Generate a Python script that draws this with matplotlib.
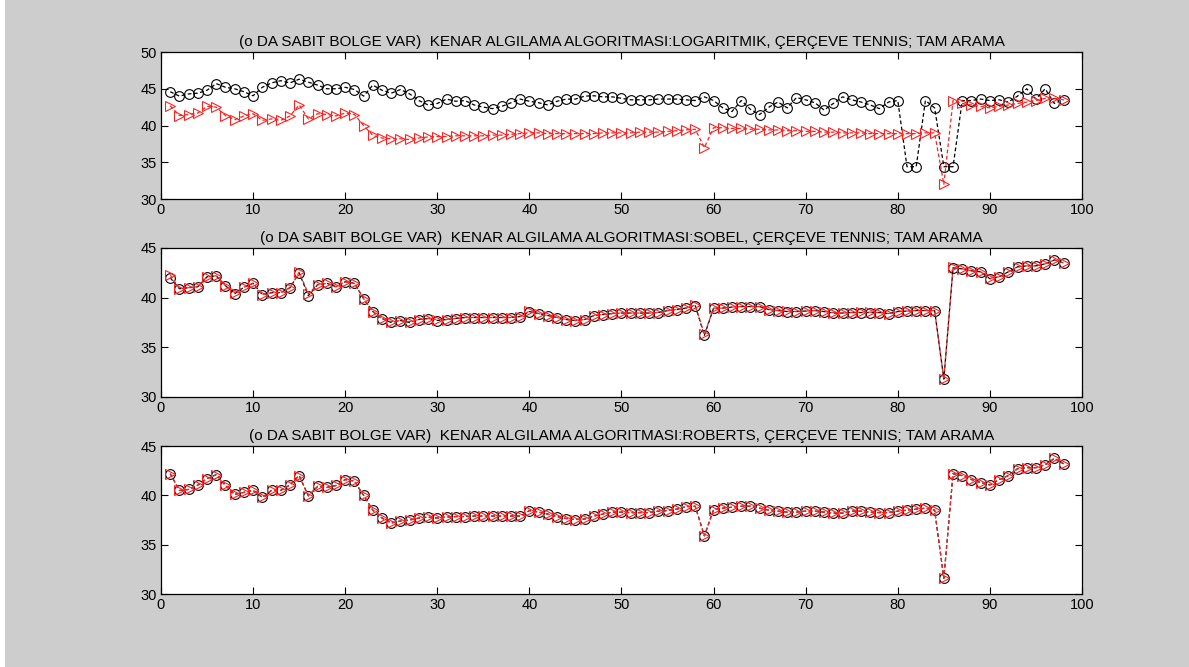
import numpy as np
import matplotlib
matplotlib.use('Agg')
import matplotlib.pyplot as plt
import matplotlib.patches as mpatches

plt.rcParams['font.family'] = ['Liberation Sans', 'DejaVu Sans']

x = np.arange(1, 99)

# LOGARITMIK
log_circ = [44.6, 44.0, 44.3, 44.4, 44.8, 45.7, 45.2, 45.0, 44.6, 44.05,
            45.2, 45.8, 46.1, 45.8, 46.3, 45.9, 45.5, 45.0, 45.0, 45.2,
            44.9, 44.0, 45.5, 44.8, 44.4, 44.9, 44.3, 43.4, 42.8, 43.0,
            43.6, 43.3, 43.4, 42.8, 42.5, 42.3, 42.6, 43.1, 43.6, 43.3,
            43.1, 42.8, 43.3, 43.6, 43.6, 44.0, 44.05, 43.9, 43.9, 43.7,
            43.5, 43.5, 43.5, 43.6, 43.6, 43.6, 43.5, 43.4, 43.9, 43.4,
            42.4, 41.9, 43.4, 42.2, 41.5, 42.5, 43.2, 42.4, 43.8, 43.5,
            43.1, 42.1, 43.0, 43.9, 43.5, 43.2, 42.8, 42.3, 43.2, 43.4,
            34.4, 34.4, 43.4, 42.4, 34.4, 34.4, 43.4, 43.4, 43.6, 43.4,
            43.5, 43.2, 44.0, 45.0, 43.6, 45.0, 43.0, 43.5]
log_tri = [42.7, 41.35, 41.5, 41.7, 42.6, 42.5, 41.35, 40.8, 41.3, 41.6,
           40.7, 40.9, 40.7, 41.3, 42.8, 40.9, 41.6, 41.5, 41.3, 41.7,
           41.5, 40.0, 38.65, 38.3, 38.2, 38.2, 38.1, 38.3, 38.45, 38.5,
           38.5, 38.6, 38.6, 38.6, 38.6, 38.7, 38.7, 38.8, 38.9, 39.0,
           39.0, 38.9, 38.9, 38.9, 38.9, 38.9, 38.9, 39.0, 39.0, 39.0,
           39.0, 39.1, 39.1, 39.1, 39.2, 39.3, 39.4, 39.5, 37.0, 39.7,
           39.7, 39.6, 39.6, 39.5, 39.5, 39.4, 39.4, 39.3, 39.3, 39.2,
           39.2, 39.1, 39.1, 39.0, 39.0, 39.0, 38.9, 38.9, 38.9, 38.9,
           38.9, 38.9, 39.0, 39.0, 32.0, 43.4, 43.0, 42.8, 42.6, 42.4,
           42.6, 42.8, 43.0, 43.2, 43.4, 43.7, 43.7, 43.5]

# SOBEL
sob_tri = [42.3, 40.9, 41.0, 41.1, 42.1, 42.2, 41.2, 40.5, 41.05, 41.45,
           40.3, 40.5, 40.5, 41.0, 42.55, 40.4, 41.3, 41.45, 41.1, 41.6,
           41.45, 39.9, 38.6, 37.9, 37.6, 37.7, 37.6, 37.8, 37.9, 37.8,
           37.8, 37.9, 38.0, 38.0, 38.0, 38.0, 38.0, 38.0, 38.1, 38.65,
           38.4, 38.2, 38.0, 37.8, 37.7, 37.8, 38.2, 38.3, 38.4, 38.45,
           38.45, 38.45, 38.45, 38.5, 38.7, 38.8, 38.95, 39.25, 36.3, 38.95,
           38.95, 39.05, 39.1, 39.1, 39.1, 38.8, 38.7, 38.65, 38.6, 38.65,
           38.7, 38.6, 38.5, 38.45, 38.5, 38.55, 38.55, 38.5, 38.4, 38.6,
           38.65, 38.7, 38.7, 38.7, 31.8, 43.05, 42.9, 42.7, 42.6, 41.95,
           42.1, 42.6, 43.1, 43.2, 43.2, 43.4, 43.8, 43.5]
sob_circ = [42.0, 40.9, 41.0, 41.1, 42.1, 42.2, 41.2, 40.4, 41.05, 41.45,
            40.3, 40.5, 40.5, 41.0, 42.5, 40.2, 41.3, 41.45, 41.1, 41.6,
            41.45, 39.9, 38.6, 37.9, 37.5, 37.7, 37.5, 37.8, 37.9, 37.7,
            37.8, 37.9, 38.0, 38.0, 38.0, 38.0, 38.0, 38.0, 38.1, 38.6,
            38.4, 38.2, 38.0, 37.8, 37.7, 37.8, 38.2, 38.3, 38.4, 38.45,
            38.45, 38.45, 38.45, 38.5, 38.7, 38.8, 38.95, 39.2, 36.2, 38.95,
            38.95, 39.05, 39.1, 39.1, 39.1, 38.8, 38.7, 38.6, 38.6, 38.65,
            38.7, 38.6, 38.45, 38.45, 38.5, 38.5, 38.5, 38.5, 38.4, 38.6,
            38.65, 38.7, 38.7, 38.7, 31.8, 43.0, 42.9, 42.7, 42.6, 41.9,
            42.1, 42.6, 43.1, 43.2, 43.2, 43.4, 43.8, 43.5]

# ROBERTS
rob_tri = [42.2, 40.5, 40.6, 41.05, 41.7, 42.1, 41.0, 40.1, 40.3, 40.5,
           39.8, 40.5, 40.5, 41.05, 42.0, 39.95, 40.9, 40.8, 41.0, 41.6,
           41.45, 40.0, 38.5, 37.7, 37.2, 37.4, 37.5, 37.7, 37.8, 37.7,
           37.8, 37.85, 37.85, 37.9, 37.9, 37.9, 37.9, 37.9, 37.9, 38.45,
           38.3, 38.1, 37.85, 37.65, 37.55, 37.6, 37.9, 38.1, 38.3, 38.3,
           38.25, 38.25, 38.25, 38.4, 38.45, 38.6, 38.85, 38.9, 35.9, 38.55,
           38.7, 38.8, 38.9, 38.9, 38.7, 38.5, 38.4, 38.3, 38.3, 38.4,
           38.4, 38.3, 38.2, 38.2, 38.4, 38.4, 38.3, 38.25, 38.25, 38.4,
           38.5, 38.6, 38.7, 38.5, 31.6, 42.2, 42.0, 41.6, 41.3, 41.05,
           41.6, 42.0, 42.7, 42.8, 42.8, 43.1, 43.75, 43.2]
rob_circ = list(rob_tri)

titles = ['(o DA SABIT BOLGE VAR)  KENAR ALGILAMA ALGORITMASI:LOGARITMIK, ÇERÇEVE TENNIS; TAM ARAMA',
          '(o DA SABIT BOLGE VAR)  KENAR ALGILAMA ALGORITMASI:SOBEL, ÇERÇEVE TENNIS; TAM ARAMA',
          '(o DA SABIT BOLGE VAR)  KENAR ALGILAMA ALGORITMASI:ROBERTS, ÇERÇEVE TENNIS; TAM ARAMA']
circ_data = [log_circ, sob_circ, rob_circ]
tri_data = [log_tri, sob_tri, rob_tri]
ylims = [(30, 50), (30, 45), (30, 45)]

bg = '#cdcdcd'
fig = plt.figure(figsize=(11.89, 6.67), dpi=100, facecolor=bg)
# thin white strip at the left edge like the screenshot
fig.patches.append(mpatches.Rectangle((0, 0), 5 / 1189, 1, transform=fig.transFigure,
                                      facecolor='white', edgecolor='none', zorder=-1))

pos = [[0.1354, 0.7016, 0.7746, 0.2204],
       [0.1354, 0.4048, 0.7746, 0.2234],
       [0.1354, 0.1094, 0.7746, 0.2219]]

for i in range(3):
    ax = fig.add_axes(pos[i])
    ax.plot(x, circ_data[i], color='k', linestyle=(0, (3, 2)), lw=0.9,
            marker='o', markersize=7, markerfacecolor='none', markeredgecolor='k', mew=0.8)
    ax.plot(x, tri_data[i], color='#ff2020', linestyle=(0, (3, 2)), lw=0.9,
            marker='>', markersize=7, markerfacecolor='none', markeredgecolor='#ff2020', mew=0.8)
    ax.set_xlim(0, 100)
    ax.set_ylim(ylims[i])
    ax.set_xticks(np.arange(0, 101, 10))
    ax.set_yticks(np.arange(ylims[i][0], ylims[i][1] + 1, 5))
    ax.tick_params(direction='in', top=True, right=True, length=5, width=0.8,
                   labelsize=10.5, pad=3)
    for s in ax.spines.values():
        s.set_linewidth(0.9)
    ax.set_title(titles[i], fontsize=11, pad=4)

plt.savefig('out.png', dpi=100, facecolor=bg)
